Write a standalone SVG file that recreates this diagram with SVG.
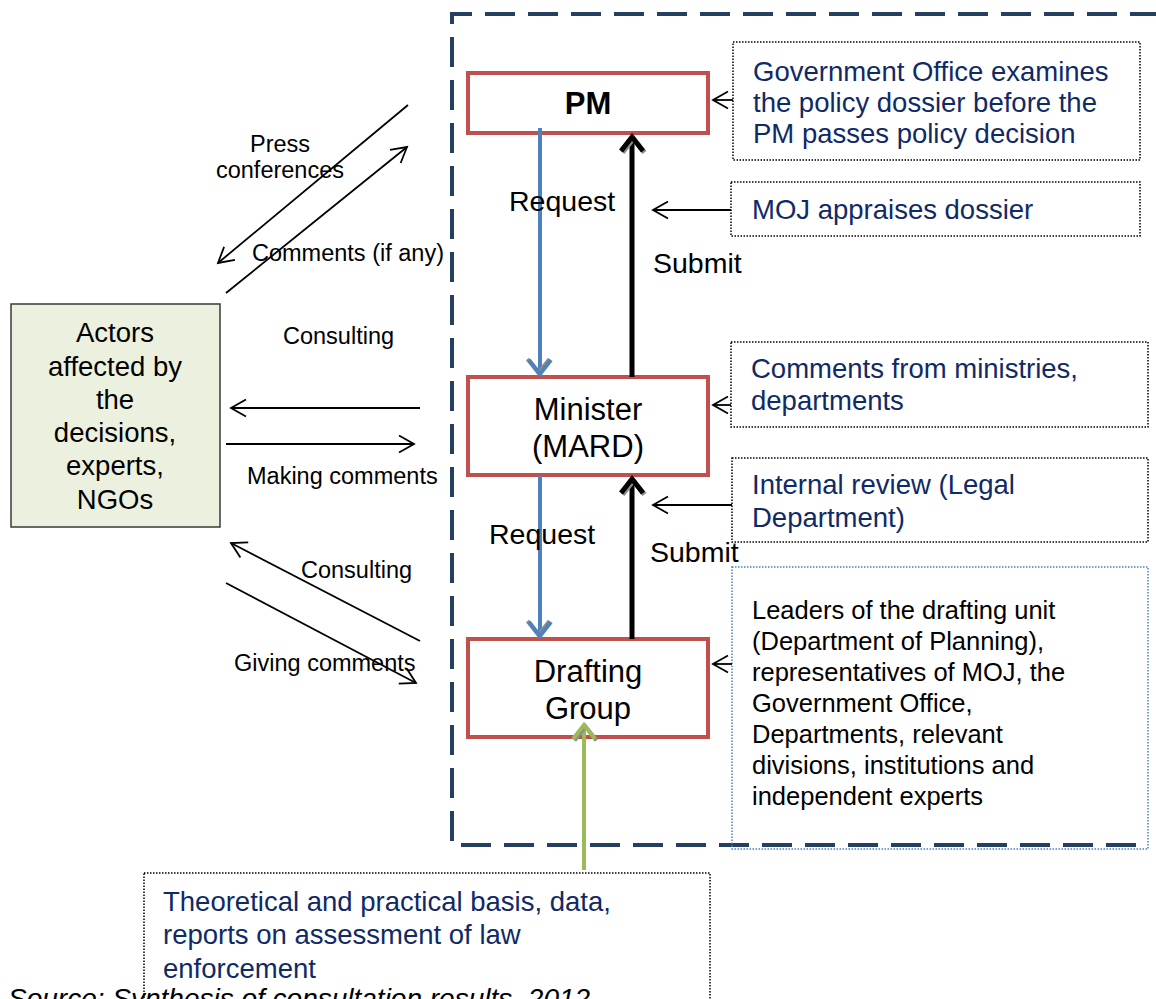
<svg xmlns="http://www.w3.org/2000/svg" width="1156" height="999" viewBox="0 0 1156 999">
  <style>
    .txt { font-family: "Liberation Sans", Arial, sans-serif; fill: #000; }
    .navy { font-family: "Liberation Sans", Arial, sans-serif; fill: #0F2A66; font-size: 27.5px; }
    .lbl { font-family: "Liberation Sans", Arial, sans-serif; fill: #000; font-size: 23.5px; }
    .node { fill: #fff; stroke: #C0504D; stroke-width: 4; }
    .note { fill: none; stroke: #000; stroke-width: 1.5; stroke-dasharray: 1.5 1.5; }
    .note-blue { fill: none; stroke: #4F81BD; stroke-width: 1.5; stroke-dasharray: 1.5 1.5; }
    .thin { fill: none; stroke: #000; stroke-width: 1.8; marker-end: url(#open); }
  </style>
  <defs>
    <marker id="open" markerUnits="userSpaceOnUse" viewBox="-16 -10 18 20" refX="0" refY="0" markerWidth="18" markerHeight="20" orient="auto" overflow="visible">
      <path d="M-15,-8.5 L0,0 L-15,8.5" fill="none" stroke="#000" stroke-width="1.8"/>
    </marker>
    <marker id="thickBlue" markerUnits="userSpaceOnUse" viewBox="-20 -12 24 24" refX="0" refY="0" markerWidth="24" markerHeight="24" orient="auto" overflow="visible">
      <path d="M-14,-11 L0,0 L-14,11" fill="none" stroke="#8c8c8c" stroke-width="4" transform="translate(-1,1.5)"/>
      <path d="M-14,-11 L0,0 L-14,11" fill="none" stroke="#4F81BD" stroke-width="4"/>
    </marker>
    <marker id="thickBlack" markerUnits="userSpaceOnUse" viewBox="-20 -12 24 24" refX="0" refY="0" markerWidth="24" markerHeight="24" orient="auto" overflow="visible">
      <path d="M-14,-11 L0,0 L-14,11" fill="none" stroke="#8c8c8c" stroke-width="5" transform="translate(-1.5,1.5)"/>
      <path d="M-14,-11 L0,0 L-14,11" fill="none" stroke="#000" stroke-width="5"/>
    </marker>
    <marker id="thickGreen" markerUnits="userSpaceOnUse" viewBox="-20 -12 24 24" refX="0" refY="0" markerWidth="24" markerHeight="24" orient="auto" overflow="visible">
      <path d="M-14,-11 L0,0 L-14,11" fill="none" stroke="#8c8c8c" stroke-width="4" transform="translate(-1.5,1.5)"/>
      <path d="M-14,-11 L0,0 L-14,11" fill="none" stroke="#9BBB59" stroke-width="4"/>
    </marker>
  </defs>

  <rect width="1156" height="999" fill="#fff"/>

  <!-- dashed boundary of the ministry process -->
  <g id="boundary" fill="none" stroke="#243F60" stroke-width="4" stroke-dasharray="30 13">
    <path d="M1160,14 L452,14 L452,845 L1145,845"/>
  </g>

  <!-- caption (runs off the lower edge) -->
  <text class="txt" x="8" y="1008" font-size="28" font-style="italic">Source: Synthesis of consultation results, 2012</text>

  <!-- process nodes -->
  <g id="pm">
    <rect class="node" x="468" y="73" width="240" height="60"/>
    <text class="txt" x="588" y="114" font-size="31" font-weight="bold" text-anchor="middle">PM</text>
  </g>
  <g id="minister">
    <rect class="node" x="468" y="377" width="240" height="98"/>
    <text class="txt" x="588" y="420" font-size="31" text-anchor="middle">Minister</text>
    <text class="txt" x="588" y="457" font-size="31" text-anchor="middle">(MARD)</text>
  </g>
  <g id="drafting-group">
    <rect class="node" x="468" y="639" width="240" height="98"/>
    <text class="txt" x="588" y="682" font-size="31" text-anchor="middle">Drafting</text>
    <text class="txt" x="588" y="719" font-size="31" text-anchor="middle">Group</text>
  </g>

  <g id="actors">
    <rect x="11" y="304" width="209" height="223" fill="#EBF1DE" stroke="#3a3a3a" stroke-width="1.5"/>
    <g class="txt" font-size="27.5" text-anchor="middle">
      <text x="115" y="342">Actors</text>
      <text x="115" y="376">affected by</text>
      <text x="115" y="409">the</text>
      <text x="115" y="442">decisions,</text>
      <text x="115" y="475">experts,</text>
      <text x="115" y="509">NGOs</text>
    </g>
  </g>

  <!-- notes -->
  <g id="note-gov-office">
    <rect class="note" x="733" y="42" width="407" height="118"/>
    <text class="navy" x="753" y="81">Government Office examines</text>
    <text class="navy" x="753" y="112">the policy dossier before the</text>
    <text class="navy" x="753" y="143">PM passes policy decision</text>
  </g>
  <g id="note-moj">
    <rect class="note" x="731" y="182" width="409" height="54"/>
    <text class="navy" x="752" y="219">MOJ appraises dossier</text>
  </g>
  <g id="note-ministries">
    <rect class="note" x="731" y="342" width="417" height="85"/>
    <text class="navy" x="751" y="378">Comments from ministries,</text>
    <text class="navy" x="751" y="410">departments</text>
  </g>
  <g id="note-internal">
    <rect class="note" x="732" y="458" width="416" height="84"/>
    <text class="navy" x="752" y="494">Internal review (Legal</text>
    <text class="navy" x="752" y="527">Department)</text>
  </g>
  <g id="note-members">
    <rect class="note-blue" x="732" y="567" width="416" height="282"/>
    <g class="txt" font-size="25.5">
      <text x="752" y="619">Leaders of the drafting unit</text>
      <text x="752" y="650">(Department of Planning),</text>
      <text x="752" y="681">representatives of MOJ, the</text>
      <text x="752" y="712">Government Office,</text>
      <text x="752" y="743">Departments, relevant</text>
      <text x="752" y="774">divisions, institutions and</text>
      <text x="752" y="805">independent experts</text>
    </g>
  </g>
  <g id="note-basis">
    <rect class="note" x="144" y="873" width="566" height="140"/>
    <text class="navy" x="163" y="911">Theoretical and practical basis, data,</text>
    <text class="navy" x="163" y="944">reports on assessment of law</text>
    <text class="navy" x="163" y="978">enforcement</text>
  </g>

  <!-- connectors -->
  <g id="connectors">
    <!-- vertical flow -->
    <line x1="540" y1="128" x2="540" y2="374" stroke="#4F81BD" stroke-width="4" marker-end="url(#thickBlue)"/>
    <line x1="540" y1="475" x2="540" y2="636" stroke="#4F81BD" stroke-width="4" marker-end="url(#thickBlue)"/>
    <line x1="632" y1="377" x2="632" y2="137" stroke="#000" stroke-width="5" marker-end="url(#thickBlack)"/>
    <line x1="632" y1="639" x2="632" y2="479" stroke="#000" stroke-width="5" marker-end="url(#thickBlack)"/>
    <line x1="584" y1="870" x2="584" y2="725" stroke="#9BBB59" stroke-width="4" marker-end="url(#thickGreen)"/>

    <!-- inputs from the right-hand notes -->
    <line class="thin" x1="733" y1="100" x2="713" y2="100"/>
    <line class="thin" x1="731" y1="210" x2="653" y2="210"/>
    <line class="thin" x1="731" y1="405" x2="713" y2="405"/>
    <line class="thin" x1="732" y1="505" x2="653" y2="505"/>
    <line class="thin" x1="732" y1="664" x2="713" y2="664"/>

    <!-- exchanges with outside actors -->
    <line class="thin" x1="408" y1="105" x2="218" y2="263"/>
    <line class="thin" x1="226" y1="293" x2="407" y2="147"/>
    <line class="thin" x1="420" y1="408" x2="231" y2="408"/>
    <line class="thin" x1="226" y1="444" x2="414" y2="444"/>
    <line class="thin" x1="420" y1="641" x2="231" y2="543"/>
    <line class="thin" x1="226" y1="583" x2="416" y2="683"/>
  </g>

  <!-- connector labels -->
  <g id="labels">
    <text class="txt" x="509" y="211" font-size="28.5">Request</text>
    <text class="txt" x="653" y="273" font-size="28.5">Submit</text>
    <text class="txt" x="489" y="544" font-size="28.5">Request</text>
    <text class="txt" x="650" y="562" font-size="28.5">Submit</text>
    <text class="lbl" x="280" y="152" text-anchor="middle">Press</text>
    <text class="lbl" x="280" y="178" text-anchor="middle">conferences</text>
    <text class="lbl" x="252" y="261">Comments (if any)</text>
    <text class="lbl" x="283" y="344">Consulting</text>
    <text class="lbl" x="247" y="484">Making comments</text>
    <text class="lbl" x="301" y="578">Consulting</text>
    <text class="lbl" x="234" y="671">Giving comments</text>
  </g>
</svg>
